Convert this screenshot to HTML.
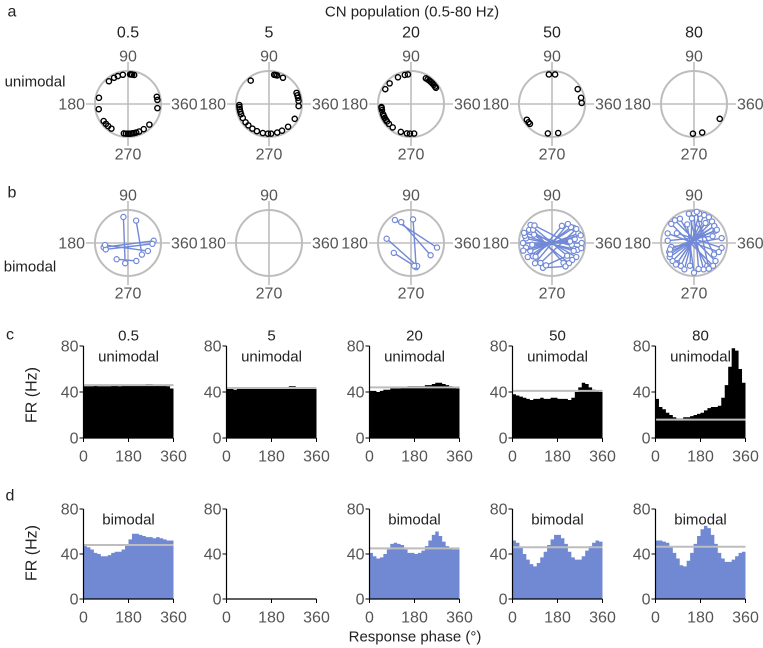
<!DOCTYPE html>
<html><head><meta charset="utf-8"><style>
body{margin:0;background:#fff;}
svg{display:block;font-family:"Liberation Sans",sans-serif;}
</style></head><body>
<svg id="fig" width="763" height="648" viewBox="0 0 763 648"></svg>
<script>
const freqs=["0.5","5","20","50","80"];
// unimodal preferred phases (deg)
const uniAngles=[
 [78,82,84,86,100,110,118,130,168,190,215,222,228,236,262,266,270,273,276,279,282,286,292,302,316,352,8,14],
 [80,77,74,62,128,22,17,12,6,356,182,186,190,195,200,208,218,226,236,246,258,268,274,286,296,310,330],
 [96,102,116,136,150,60,56,52,48,44,40,36,33,186,188,192,200,204,208,212,216,222,232,250,262,268,276],
 [84,96,2,12,30,212,218,222,262,282],
 [268,286,330]
];
const uniR=[0.9,0.9,0.9,0.9,0.9];
// bimodal pairs: [angle1, r1, angle2, r2]
const biPairs=[
 [[100,0.8,262,0.62],[70,0.72,320,0.55],[190,0.75,5,0.78],[196,0.7,358,0.74],[185,0.7,338,0.65],[235,0.6,295,0.6]],
 [],
 [[125,0.85,350,0.8],[115,0.7,328,0.7],[85,0.72,282,0.75],[170,0.75,285,0.72],[210,0.6,278,0.7]],
 [[200,0.7,20,0.85],[190,0.8,10,0.7],[170,0.8,345,0.8],[165,0.85,340,0.7],[150,0.8,330,0.85],[140,0.85,320,0.8],[210,0.85,35,0.8],[215,0.7,40,0.75],[230,0.8,50,0.75],[240,0.7,30,0.85],[160,0.9,350,0.9],[180,0.88,0,0.9],[195,0.9,15,0.9],[155,0.6,310,0.8],[145,0.7,300,0.7],[135,0.75,355,0.6],[220,0.65,60,0.6],[185,0.6,5,0.55],[250,0.8,300,0.82],[255,0.7,320,0.6]],
 [[100,0.9,290,0.85],[90,0.9,280,0.8],[80,0.9,250,0.85],[70,0.9,240,0.8],[60,0.9,230,0.8],[50,0.85,220,0.85],[120,0.85,300,0.8],[130,0.9,320,0.85],[150,0.6,350,0.85],[190,0.7,10,0.85],[200,0.8,30,0.75],[210,0.85,40,0.8],[110,0.6,270,0.9],[95,0.75,260,0.7],[40,0.8,205,0.8],[30,0.8,195,0.75],[140,0.9,310,0.9],[160,0.85,340,0.8],[75,0.6,330,0.7],[85,0.95,300,0.9],[175,0.8,20,0.6],[230,0.85,60,0.7]]
];
const phaseTicks=[0,180,360];
const frTicks=[0,40,80];
const uniHist=[
 [45,45,45,46,45,45,45,45,46,46,45,46,46,46,46,46,46,46,47,47,46,46,46,46,45,43],
 [43,43,42,43,43,43,43,43,43,43,43,43,43,43,43,43,44,44,45,45,44,44,44,44,44,44],
 [41,41,40,41,42,42,43,43,43,44,44,45,45,45,45,45,46,46,47,48,48,47,46,45,44,43],
 [38,37,36,35,34,33,34,34,35,34,34,35,35,34,34,34,33,35,40,44,48,47,44,42,41,40],
 [34,27,25,22,20,18,17,17,18,18,19,20,21,22,24,26,27,27,28,35,46,62,78,76,60,48]
];
const uniMean=[46,43.5,44,41,16];
const biHist=[
 [47,46,44,41,40,38,38,39,41,42,42,44,48,53,58,58,57,56,55,55,54,55,54,53,52,52],
 null,
 [41,38,36,37,40,44,49,50,49,48,44,41,41,40,41,43,47,52,57,60,56,51,47,45,44,44],
 [52,50,46,40,35,31,29,32,37,42,48,53,57,57,54,49,42,37,35,35,38,43,47,50,52,51],
 [52,52,51,50,46,41,36,30,29,34,41,49,56,62,65,63,57,49,41,36,33,33,35,38,41,42]
];
const biMean=[48,null,45,46,46.5];

const svg=document.getElementById('fig');
const NS='http://www.w3.org/2000/svg';
function el(tag,attrs,parent){const e=document.createElementNS(NS,tag);for(const k in attrs)e.setAttribute(k,attrs[k]);(parent||svg).appendChild(e);return e;}
function txt(s,x,y,attrs,parent){const t=el('text',Object.assign({x:x,y:y,'text-anchor':'middle','dominant-baseline':'central','font-size':14,fill:'#333'},attrs||{}),parent);t.textContent=s;return t;}

[['a',12,12],['b',12,193],['c',10,335],['d',10,496]].forEach(l=>{const t=txt(l[0],l[1],l[2],{'font-size':16,fill:'#222'});

});
const hdr=txt('CN population (0.5-80 Hz)',412,12,{'font-size':15,fill:'#222'});


const ul=txt('unimodal',35,82,{'font-size':15,fill:'#222'});


const bl=txt('bimodal',30,267,{'font-size':15,fill:'#222'});



const cx=[128,269,411,552,694];
const R=33;
function polar(i,cy,kind){
 const g=el('g',{});
 
 
 const c=cx[i];
 el('circle',{cx:c,cy:cy,r:R,fill:'none',stroke:'#bdbdbd','stroke-width':2},g);
 el('line',{x1:c-R-9,y1:cy,x2:c+R+9,y2:cy,stroke:'#bdbdbd','stroke-width':1.6},g);
 el('line',{x1:c,y1:cy-R-9,x2:c,y2:cy+R+9,stroke:'#bdbdbd','stroke-width':1.6},g);
 const o={'font-size':16,fill:'#555'};
 txt('90',c,cy-47,o,g);txt('270',c,cy+51,o,g);
 txt('180',c-43,cy+1,Object.assign({'text-anchor':'end'},o),g);
 txt('360',c+43,cy+1,Object.assign({'text-anchor':'start'},o),g);
 return g;
}
function pt(c,cy,a,r){const t=a*Math.PI/180;return [c+R*r*Math.cos(t),cy-R*r*Math.sin(t)];}
for(let i=0;i<5;i++){
 const t=txt(freqs[i],cx[i],33,{'font-size':16,fill:'#222'});
 
 
 const g=polar(i,104,'unimodal');
 uniAngles[i].forEach(a=>{const p=pt(cx[i],104,a,uniR[i]);
  const d=el('circle',{cx:p[0],cy:p[1],r:2.6,fill:'none',stroke:'#000','stroke-width':1.4},g);
  
  });
 const g2=polar(i,243,'bimodal');
 biPairs[i].forEach(q=>{const p1=pt(cx[i],243,q[0],q[1]),p2=pt(cx[i],243,q[2],q[3]);
  const ln=el('line',{x1:p1[0],y1:p1[1],x2:p2[0],y2:p2[1],stroke:'#7189d6','stroke-width':1.4},g2);
  
  
  [p1,p2].forEach(p=>{const d=el('circle',{cx:p[0],cy:p[1],r:2.6,fill:'#fff',stroke:'#7189d6','stroke-width':1.2},g2);
   
   });});
}

const hx=[83.5,226.5,369.5,512.5,655.5];
const HW=90;
function hist(i,y0,y80,vals,mean,color,label,kind){
 const g=el('g',{});
 
 
 const x0=hx[i];
 const X=v=>x0+v/360*HW, Y=v=>y0+(y80-y0)*v/80;
 if(vals){
  const n=vals.length,w=HW/n;
  let d='M'+x0+','+y0;
  vals.forEach((v,k)=>{d+=' L'+(x0+k*w)+','+Y(v)+' L'+(x0+(k+1)*w)+','+Y(v);});
  d+=' L'+(x0+HW)+','+y0+'Z';
  const b=el('path',{d:d,fill:color},g);
  
  
  const m=el('line',{x1:x0,x2:x0+HW,y1:Y(mean),y2:Y(mean),stroke:'#bdbdbd','stroke-width':2},g);
  
  
 }
 el('line',{x1:x0,y1:y80,x2:x0,y2:y0,stroke:'#000','stroke-width':1.2},g);
 el('line',{x1:x0,y1:y0,x2:x0+HW,y2:y0,stroke:'#000','stroke-width':1.2},g);
 frTicks.forEach(v=>{el('line',{x1:x0-4,x2:x0,y1:Y(v),y2:Y(v),stroke:'#000'},g);
  txt(String(v),x0-5,Y(v)+1,{'text-anchor':'end','font-size':16,fill:'#555'},g);});
 phaseTicks.forEach(v=>{el('line',{x1:X(v),x2:X(v),y1:y0,y2:y0+4,stroke:'#000'},g);
  txt(String(v),X(v),y0+19,{'font-size':16,fill:'#555'},g);});
 if(label){const t=txt(label,x0+HW/2,y80+11,{'font-size':15,fill:'#222'},g);
  
  }
}
for(let i=0;i<5;i++){
 const t=txt(freqs[i],hx[i]+HW/2,336,{'font-size':15,fill:'#222'});
 
 
 hist(i,438,346,uniHist[i],uniMean[i],'#000','unimodal','unimodal');
 hist(i,599,509,biHist[i],biMean[i],'#7089d2',biHist[i]?'bimodal':null,'bimodal');
}
[[395,'c'],[553,'d']].forEach(a=>{const t=txt('FR (Hz)',32,a[0],{'font-size':16,fill:'#222',transform:'rotate(-90 32 '+a[0]+')'});
 
 });
const xt=txt('Response phase (°)',415,637,{'font-size':15,fill:'#222'});


</script>
</body></html>
